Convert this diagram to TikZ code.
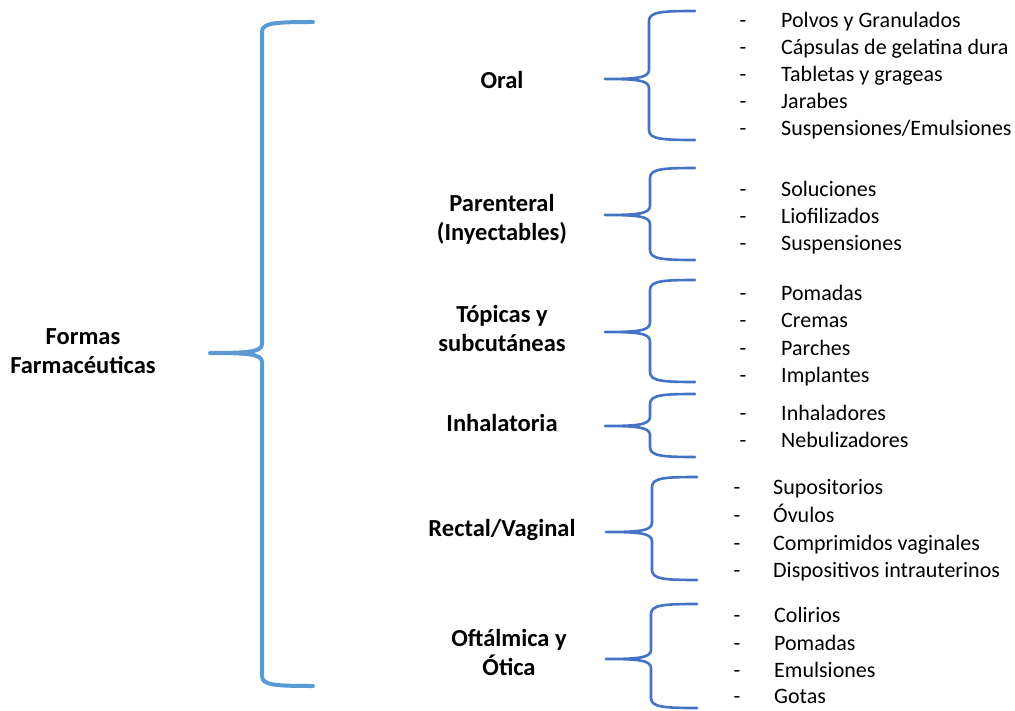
\documentclass[tikz,border=0pt]{standalone}
\usepackage{fontspec}
\setmainfont{Carlito}
\definecolor{bigblue}{HTML}{5B9BD5}
\definecolor{smallblue}{HTML}{4472C4}
% curly brace: #1 right ends, #2 vertical bar, #3 tip x, #4 top, #5 tip y, #6 bottom, #7 style
\newcommand\curlybrace[7]{%
  \draw[#7] (#1,#4) .. controls (#2+12,#4) and (#2,#4+1) .. (#2,#4+10)
    -- (#2,#5-9) .. controls (#2,#5-1) and (#2-14,#5) .. (#3,#5)
    .. controls (#2-14,#5) and (#2,#5+1) .. (#2,#5+9)
    -- (#2,#6-10) .. controls (#2,#6-1) and (#2+12,#6) .. (#1,#6);}
\begin{document}
% x and y in pixel-like points, y pointing down
\begin{tikzpicture}[x=1pt,y=-1pt,
  bigbrace/.style={draw=bigblue, line width=4pt, line cap=round, line join=round},
  smallbrace/.style={draw=smallblue, line width=2.6pt, line cap=round, line join=round},
  group/.style={font=\fontsize{24.5}{29}\selectfont\bfseries, align=center, inner sep=0pt},
  item/.style={font=\fontsize{22}{27}\selectfont, anchor=base west, inner sep=0pt},
  hyph/.style={font=\fontsize{22}{27}\selectfont, anchor=base, inner sep=0pt}]
\useasboundingbox (0,0) rectangle (1015,711);

% root
\node[group] (root) at (83,351) {Formas\\Farmacéuticas};
\curlybrace{313}{262}{210}{22}{353}{686}{bigbrace}

% groups
\node[group] (oral) at (502,80) {Oral};
\node[group] (par) at (502,219) {Parenteral\\(Inyectables)};
\node[group] (top) at (502,328) {Tópicas y\\subcutáneas};
\node[group] (inh) at (502,423) {Inhalatoria};
\node[group] (rec) at (502,530) {Rectal/Vaginal};
\node[group] (oft) at (509,652) {Oftálmica y\\Ótica};

\curlybrace{695}{649}{605}{11}{79}{140}{smallbrace}
\curlybrace{695}{650}{605}{168}{215}{260}{smallbrace}
\curlybrace{695}{650}{605}{280}{332}{382}{smallbrace}
\curlybrace{695}{650}{605}{394}{426}{457}{smallbrace}
\curlybrace{697}{652}{606}{477}{532}{580}{smallbrace}
\curlybrace{697}{651}{606}{604}{659}{708}{smallbrace}

% oral
\foreach \t/\y [count=\i] in {Polvos y Granulados/27.5, Cápsulas de gelatina dura/54.5, Tabletas y grageas/81.5, Jarabes/108.5, {Suspensiones/Emulsiones}/135.5}{
  \node[hyph] (ord\i) at (743,\y) {-};
  \node[item] (ori\i) at (781,\y) {\t};}
% parenteral
\foreach \t/\y [count=\i] in {Soluciones/196.5, Liofilizados/223.5, Suspensiones/250.5}{
  \node[hyph] (pad\i) at (743,\y) {-};
  \node[item] (pai\i) at (781,\y) {\t};}
% topical
\foreach \t/\y [count=\i] in {Pomadas/301, Cremas/328, Parches/355.5, Implantes/382.5}{
  \node[hyph] (tod\i) at (743,\y) {-};
  \node[item] (toi\i) at (781,\y) {\t};}
% inhalation
\foreach \t/\y [count=\i] in {Inhaladores/420.5, Nebulizadores/447.5}{
  \node[hyph] (ind\i) at (743,\y) {-};
  \node[item] (ini\i) at (781,\y) {\t};}
% rectal / vaginal
\foreach \t/\y [count=\i] in {Supositorios/494.5, Óvulos/522.5, Comprimidos vaginales/550, Dispositivos intrauterinos/577.5}{
  \node[hyph] (red\i) at (737,\y) {-};
  \node[item] (rei\i) at (773,\y) {\t};}
% ophthalmic / otic
\foreach \t/\y [count=\i] in {Colirios/622.5, Pomadas/650, Emulsiones/677, Gotas/703.5}{
  \node[hyph] (ofd\i) at (737,\y) {-};
  \node[item] (ofi\i) at (774,\y) {\t};}
\end{tikzpicture}
\end{document}
